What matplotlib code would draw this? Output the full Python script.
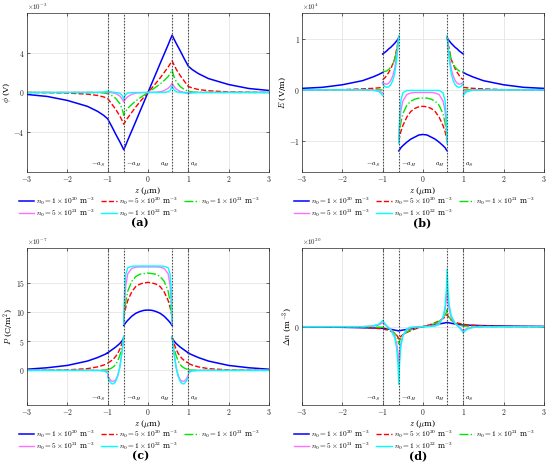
import numpy as np
import matplotlib
matplotlib.use('Agg')
import matplotlib.pyplot as plt
import matplotlib.transforms as mtransforms
from matplotlib.ticker import FuncFormatter

plt.rcParams['mathtext.fontset'] = 'cm'
plt.rcParams['font.family'] = ['DejaVu Serif']

# ---------------- data ----------------
labels = [r'$n_0 = 1 \times 10^{20}$ m$^{-3}$',
          r'$n_0 = 5 \times 10^{20}$ m$^{-3}$',
          r'$n_0 = 1 \times 10^{21}$ m$^{-3}$',
          r'$n_0 = 5 \times 10^{21}$ m$^{-3}$',
          r'$n_0 = 1 \times 10^{22}$ m$^{-3}$']

boundaries = [-1.0, -0.6, 0.6, 1.0]
boundary_labels = [r'$-a_S$', r'$-a_H$', r'$a_H$', r'$a_S$']

# z grid (um) for continuous quantities (phi, delta n)
z_cont = [-3, -2.5, -2, -1.5, -1.25, -1.1, -1, -0.9, -0.8, -0.7, -0.65, -0.62, -0.6, -0.58, -0.55,
          -0.5, -0.4, -0.3, -0.2, -0.1, 0, 0.1, 0.2, 0.3, 0.4, 0.5, 0.55, 0.58, 0.6, 0.62, 0.65,
          0.7, 0.8, 0.9, 1, 1.1, 1.25, 1.5, 2, 2.5, 3]

# phi (x1e-3 V)
phi_1e20 = [-0.2, -0.4, -0.8, -1.4, -1.9, -2.3, -2.65, -3.4, -4.2, -4.95, -5.35, -5.6, -5.77, -5.58, -5.3,
            -4.8, -3.85, -2.9, -1.93, -0.97, 0, 0.97, 1.93, 2.9, 3.85, 4.8, 5.3, 5.58, 5.77, 5.6, 5.35,
            4.95, 4.2, 3.4, 2.65, 2.3, 1.9, 1.4, 0.8, 0.4, 0.2]
phi_5e20 = [0, -0.02, -0.06, -0.17, -0.3, -0.45, -0.6, -1.15, -1.7, -2.35, -2.75, -3.0, -3.2, -3.07, -2.88,
            -2.55, -2.0, -1.45, -0.95, -0.47, 0, 0.47, 0.95, 1.45, 2.0, 2.55, 2.88, 3.07, 3.2, 3.0, 2.75,
            2.35, 1.7, 1.15, 0.6, 0.45, 0.3, 0.17, 0.06, 0.02, 0]
phi_1e21 = [0, 0, 0, 0, -0.02, -0.05, -0.12, -0.3, -0.6, -1.1, -1.55, -1.95, -2.3, -2.12, -1.9,
            -1.6, -1.2, -0.85, -0.55, -0.27, 0, 0.27, 0.55, 0.85, 1.2, 1.6, 1.9, 2.12, 2.3, 1.95, 1.55,
            1.1, 0.6, 0.3, 0.12, 0.05, 0.02, 0, 0, 0, 0]
phi_5e21 = [0, 0, 0, 0, 0, 0.01, 0.03, -0.02, -0.1, -0.35, -0.6, -0.8, -0.95, -0.8, -0.62,
            -0.42, -0.18, -0.07, -0.03, -0.01, 0, 0.01, 0.03, 0.07, 0.18, 0.42, 0.62, 0.8, 0.95, 0.8, 0.6,
            0.35, 0.1, 0.02, -0.03, -0.01, 0, 0, 0, 0, 0]
phi_1e22 = [0, 0, 0, 0, 0.01, 0.04, 0.13, 0.04, 0, -0.08, -0.25, -0.45, -0.68, -0.45, -0.2,
            -0.07, -0.01, 0, 0, 0, 0, 0, 0, 0, 0.01, 0.07, 0.2, 0.45, 0.68, 0.45, 0.25,
            0.08, 0, -0.04, -0.13, -0.04, -0.01, 0, 0, 0, 0]

# delta n (x1e20 m^-3)
dn_1e20 = [-0.01, -0.015, -0.025, -0.04, -0.05, -0.055, -0.06, -0.08, -0.1, -0.13, -0.145, -0.155, -0.16, -0.155, -0.145,
           -0.13, -0.105, -0.08, -0.053, -0.027, 0, 0.027, 0.053, 0.08, 0.105, 0.13, 0.145, 0.155, 0.16, 0.155, 0.145,
           0.13, 0.1, 0.08, 0.06, 0.055, 0.05, 0.04, 0.025, 0.015, 0.01]
dn_5e20 = [0, -0.005, -0.01, -0.03, -0.05, -0.07, -0.09, -0.12, -0.17, -0.26, -0.33, -0.4, -0.47, -0.42, -0.37,
           -0.31, -0.22, -0.15, -0.09, -0.045, 0, 0.045, 0.09, 0.15, 0.22, 0.31, 0.37, 0.42, 0.47, 0.4, 0.33,
           0.26, 0.17, 0.12, 0.09, 0.07, 0.05, 0.03, 0.01, 0.005, 0]
dn_1e21 = [0, 0, 0, 0, -0.01, -0.02, -0.02, -0.06, -0.12, -0.25, -0.37, -0.5, -0.65, -0.55, -0.44,
           -0.33, -0.2, -0.12, -0.07, -0.03, 0, 0.03, 0.07, 0.12, 0.2, 0.33, 0.44, 0.55, 0.65, 0.5, 0.37,
           0.25, 0.12, 0.06, 0.02, 0.02, 0.01, 0, 0, 0, 0]
dn_5e21 = [0, 0, 0, 0, 0.02, 0.06, 0.15, 0.02, -0.1, -0.35, -0.65, -1.0, -1.5, -1.05, -0.65,
           -0.35, -0.12, -0.05, -0.02, -0.01, 0, 0.01, 0.02, 0.05, 0.12, 0.35, 0.65, 1.05, 1.5, 1.0, 0.65,
           0.35, 0.1, -0.02, -0.15, -0.06, -0.02, 0, 0, 0, 0]
dn_1e22 = [0, 0, 0, 0, 0.03, 0.09, 0.23, 0.03, -0.12, -0.42, -0.85, -1.4, -2.2, -1.4, -0.8,
           -0.35, -0.08, -0.02, -0.01, 0, 0, 0, 0.01, 0.02, 0.08, 0.35, 0.8, 1.4, 2.2, 1.4, 0.85,
           0.42, 0.12, -0.03, -0.23, -0.09, -0.03, 0, 0, 0, 0]

# z grid (um) for discontinuous quantities (E, P); boundaries listed twice
z_jump = [-3, -2.5, -2, -1.5, -1.25, -1.1, -1.05, -1, -1, -0.95, -0.9, -0.85, -0.8, -0.75, -0.7, -0.65,
          -0.62, -0.6, -0.6, -0.58, -0.55, -0.5, -0.4, -0.3, -0.2, -0.1, 0, 0.1, 0.2, 0.3, 0.4, 0.5,
          0.55, 0.58, 0.6, 0.6, 0.62, 0.65, 0.7, 0.75, 0.8, 0.85, 0.9, 0.95, 1, 1, 1.05, 1.1, 1.25,
          1.5, 2, 2.5, 3]

# E (x1e4 V/m)
E_1e20 = [0.03, 0.05, 0.1, 0.18, 0.25, 0.3, 0.32, 0.34, 0.70, 0.73, 0.76, 0.8, 0.83, 0.87, 0.91, 0.96,
          0.99, 1.02, -1.19, -1.17, -1.13, -1.09, -1.02, -0.96, -0.92, -0.88, -0.87, -0.88, -0.92, -0.96, -1.02, -1.09,
          -1.13, -1.17, -1.19, 1.02, 0.99, 0.96, 0.91, 0.87, 0.83, 0.8, 0.76, 0.73, 0.70, 0.34, 0.32, 0.3, 0.25,
          0.18, 0.1, 0.05, 0.03]
E_5e20 = [0, 0, 0.005, 0.02, 0.03, 0.04, 0.045, 0.05, 0.2, 0.23, 0.28, 0.34, 0.41, 0.5, 0.6, 0.8,
          0.92, 1.04, -1.0, -0.93, -0.82, -0.7, -0.53, -0.42, -0.36, -0.33, -0.32, -0.33, -0.36, -0.42, -0.53, -0.7,
          -0.82, -0.93, -1.0, 1.04, 0.92, 0.8, 0.6, 0.5, 0.41, 0.34, 0.28, 0.23, 0.2, 0.05, 0.045, 0.04, 0.03,
          0.02, 0.005, 0, 0]
E_1e21 = [0, 0, 0, 0, 0, 0, 0, 0, 0.36, 0.36, 0.37, 0.4, 0.44, 0.5, 0.6, 0.78,
          0.92, 1.04, -1.02, -0.85, -0.65, -0.47, -0.3, -0.22, -0.18, -0.16, -0.16, -0.16, -0.18, -0.22, -0.3, -0.47,
          -0.65, -0.85, -1.02, 1.04, 0.92, 0.78, 0.6, 0.5, 0.44, 0.4, 0.37, 0.36, 0.36, 0, 0, 0, 0,
          0, 0, 0, 0]
E_5e21 = [0, 0, 0, 0, 0, -0.02, -0.035, -0.06, 0.15, 0.12, 0.11, 0.13, 0.18, 0.27, 0.42, 0.68,
          0.88, 1.05, -1.03, -0.7, -0.42, -0.22, -0.09, -0.06, -0.05, -0.05, -0.05, -0.05, -0.05, -0.06, -0.09, -0.22,
          -0.42, -0.7, -1.03, 1.05, 0.88, 0.68, 0.42, 0.27, 0.18, 0.13, 0.11, 0.12, 0.15, -0.06, -0.035, -0.02, 0,
          0, 0, 0, 0]
E_1e22 = [0, 0, 0, 0, -0.005, -0.03, -0.06, -0.11, 0.12, 0.07, 0.05, 0.06, 0.1, 0.18, 0.32, 0.6,
          0.85, 1.06, -1.05, -0.55, -0.22, -0.06, -0.01, -0.01, -0.01, -0.01, -0.01, -0.01, -0.01, -0.01, -0.01, -0.06,
          -0.22, -0.55, -1.05, 1.06, 0.85, 0.6, 0.32, 0.18, 0.1, 0.06, 0.05, 0.07, 0.12, -0.11, -0.06, -0.03, -0.005,
          0, 0, 0, 0]

# P (x1e-7 C/m^2)
P_1e20 = [0.2, 0.45, 0.85, 1.6, 2.2, 2.65, 2.8, 3.0, 3.0, 3.25, 3.5, 3.75, 4.0, 4.3, 4.6, 5.0,
          5.3, 5.45, 7.7, 7.9, 8.2, 8.6, 9.3, 9.8, 10.1, 10.3, 10.35, 10.3, 10.1, 9.8, 9.3, 8.6,
          8.2, 7.9, 7.7, 5.45, 5.3, 5.0, 4.6, 4.3, 4.0, 3.75, 3.5, 3.25, 3.0, 3.0, 2.8, 2.65, 2.2,
          1.6, 0.85, 0.45, 0.2]
P_5e20 = [0, 0.02, 0.08, 0.3, 0.6, 0.9, 1.05, 1.2, 1.3, 1.45, 1.7, 2.0, 2.4, 2.9, 3.6, 4.5,
          5.2, 5.8, 9.0, 9.8, 10.8, 12.0, 13.5, 14.4, 14.8, 15.0, 15.1, 15.0, 14.8, 14.4, 13.5, 12.0,
          10.8, 9.8, 9.0, 5.8, 5.2, 4.5, 3.6, 2.9, 2.4, 2.0, 1.7, 1.45, 1.3, 1.2, 1.05, 0.9, 0.6,
          0.3, 0.08, 0.02, 0]
P_1e21 = [0, 0, 0, 0, 0.02, 0.05, 0.07, 0.1, 0.2, 0.25, 0.4, 0.65, 1.0, 1.6, 2.5, 3.7,
          4.8, 5.8, 8.5, 10.0, 11.8, 13.6, 15.3, 16.1, 16.5, 16.6, 16.7, 16.6, 16.5, 16.1, 15.3, 13.6,
          11.8, 10.0, 8.5, 5.8, 4.8, 3.7, 2.5, 1.6, 1.0, 0.65, 0.4, 0.25, 0.2, 0.1, 0.07, 0.05, 0.02,
          0, 0, 0, 0]
P_5e21 = [0, 0, 0, 0, 0, -0.05, -0.1, -0.2, -0.8, -1.5, -1.85, -1.9, -1.6, -0.9, 0.5, 2.8,
          4.5, 5.8, 8.0, 11.5, 14.5, 16.6, 17.5, 17.7, 17.75, 17.75, 17.75, 17.75, 17.75, 17.7, 17.5, 16.6,
          14.5, 11.5, 8.0, 5.8, 4.5, 2.8, 0.5, -0.9, -1.6, -1.9, -1.85, -1.5, -0.8, -0.2, -0.1, -0.05, 0,
          0, 0, 0, 0]
P_1e22 = [0, 0, 0, 0, -0.02, -0.1, -0.25, -0.5, -1.1, -1.9, -2.3, -2.3, -1.9, -1.0, 0.4, 2.8,
          4.6, 5.9, 8.0, 13.5, 16.5, 17.6, 17.85, 17.9, 17.9, 17.9, 17.9, 17.9, 17.9, 17.9, 17.85, 17.6,
          16.5, 13.5, 8.0, 5.9, 4.6, 2.8, 0.4, -1.0, -1.9, -2.3, -2.3, -1.9, -1.1, -0.5, -0.25, -0.1, -0.02,
          0, 0, 0, 0]


def with_breaks(z, y):
    """Insert a gap where a boundary z-value is listed twice (discontinuity)."""
    zz, yy = [], []
    for i in range(len(z)):
        if i > 0 and z[i] == z[i - 1]:
            zz.append(np.nan)
            yy.append(np.nan)
        zz.append(z[i])
        yy.append(y[i])
    return zz, yy


# ---------------- style ----------------
colors = ['#0000ff', '#ff0000', '#00e600', '#ff70ff', '#00ffff']
styles = ['-', '--', '-.', '-', '-']
widths = [1.1, 1.0, 1.0, 1.0, 1.0]

fig = plt.figure(figsize=(5.5, 4.67), dpi=100)
fmt = FuncFormatter(lambda v, p: '$%g$' % v)

panels = [
    dict(pos=[0.049, 0.632, 0.44, 0.340], z=z_cont,
         ys=[phi_1e20, phi_5e20, phi_1e21, phi_5e21, phi_1e22],
         ylim=(-8, 8), yticks=[-4, 0, 4], ylabel=r'$\phi$ (V)', mult=r'$\times 10^{-3}$',
         cap='(a)', capxy=(0.255, 1 - 223 / 467)),
    dict(pos=[0.549, 0.632, 0.44, 0.340], z=z_jump,
         ys=[E_1e20, E_5e20, E_1e21, E_5e21, E_1e22],
         ylim=(-1.6, 1.5), yticks=[-1, 0, 1], ylabel=r'$E$ (V/m)', mult=r'$\times 10^{4}$',
         cap='(b)', capxy=(0.767, 1 - 223 / 467)),
    dict(pos=[0.049, 0.132, 0.44, 0.337], z=z_jump,
         ys=[P_1e20, P_5e20, P_1e21, P_5e21, P_1e22],
         ylim=(-6, 21), yticks=[0, 5, 10, 15], ylabel=r'$P$ (C/m$^2$)', mult=r'$\times 10^{-7}$',
         cap='(c)', capxy=(0.255, 1 - 456 / 467)),
    dict(pos=[0.549, 0.132, 0.44, 0.337], z=z_cont,
         ys=[dn_1e20, dn_5e20, dn_1e21, dn_5e21, dn_1e22],
         ylim=(-3, 3), yticks=[0], ylabel=r'$\Delta n$ (m$^{-3}$)', mult=r'$\times 10^{20}$',
         cap='(d)', capxy=(0.76, 1 - 456 / 467)),
]

for pnl in panels:
    ax = fig.add_axes(pnl['pos'])
    handles = []
    for y, c, ls, lw, lab in zip(pnl['ys'], colors, styles, widths, labels):
        zz, yy = with_breaks(pnl['z'], y)
        h, = ax.plot(zz, yy, color=c, ls=ls, lw=lw, label=lab)
        handles.append(h)
    trans = mtransforms.blended_transform_factory(ax.transData, ax.transAxes)
    for xb, tb in zip(boundaries, boundary_labels):
        ax.axvline(xb, color='0.3', lw=0.8, ls=(0, (1.5, 1.2)), zorder=5)
        if tb in (r'$-a_S$', r'$a_H$'):
            ax.annotate(tb, (xb, 0.015), xycoords=trans, xytext=(-1.5, 0),
                        textcoords='offset points', ha='right', va='bottom', fontsize=5)
        else:
            ax.annotate(tb, (xb, 0.015), xycoords=trans, xytext=(1.5, 0),
                        textcoords='offset points', ha='left', va='bottom', fontsize=5)
    ax.set_xlim(-3, 3)
    ax.set_ylim(*pnl['ylim'])
    ax.set_xticks([-3, -2, -1, 0, 1, 2, 3])
    ax.set_yticks(pnl['yticks'])
    ax.xaxis.set_major_formatter(fmt)
    ax.yaxis.set_major_formatter(fmt)
    ax.grid(True, color='0.88', lw=0.5)
    ax.set_axisbelow(True)
    ax.tick_params(direction='in', length=2, width=0.5, labelsize=5.5, pad=1.5,
                   top=True, right=True, colors='0.15')
    for s in ax.spines.values():
        s.set_linewidth(0.5)
        s.set_color('0.15')
    ax.set_xlabel(r'$z$ ($\mu$m)', fontsize=6, labelpad=0.5)
    ax.set_ylabel(pnl['ylabel'], fontsize=6, labelpad=0.5)
    ax.text(0.0, 1.005, pnl['mult'], transform=ax.transAxes, fontsize=5, ha='left', va='bottom',
            color='0.15')
    order = [0, 3, 1, 4, 2]
    ax.legend([handles[i] for i in order], [labels[i] for i in order], ncol=3,
              loc='upper center', bbox_to_anchor=(0.465, -0.125), frameon=False,
              fontsize=5.3, handlelength=2.1, handletextpad=0.3, columnspacing=0.8,
              labelspacing=0.0, borderpad=0.0)
    fig.text(pnl['capxy'][0], pnl['capxy'][1], pnl['cap'], fontsize=8, fontweight='bold',
             ha='center', va='center', family='DejaVu Serif')

fig.savefig('out.png', dpi=100)
